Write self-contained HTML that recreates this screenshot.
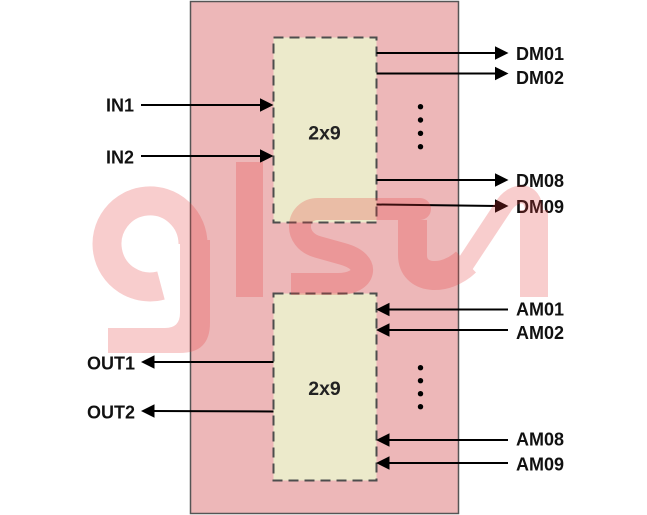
<!DOCTYPE html>
<html>
<head>
<meta charset="utf-8">
<style>
  html, body { margin: 0; padding: 0; background: #ffffff; }
  svg { display: block; }
  text { font-family: "Liberation Sans", Arial, sans-serif; font-weight: bold; font-size: 18px; fill: #111; }
</style>
</head>
<body>
<svg width="647" height="515" viewBox="0 0 647 515" xmlns="http://www.w3.org/2000/svg">
  <rect x="0" y="0" width="647" height="515" fill="#ffffff"/>

  <!-- main container -->
  <rect x="190.5" y="1.5" width="268" height="512" fill="#edb7b8" stroke="#555555" stroke-width="1.5"/>

  <!-- inner boxes -->
  <rect x="273.5" y="37.5" width="103" height="185" fill="#eceacb" stroke="#4d4d4d" stroke-width="2" stroke-dasharray="10 6"/>
  <rect x="273.5" y="293.5" width="103" height="187" fill="#eceacb" stroke="#4d4d4d" stroke-width="2" stroke-dasharray="10 6"/>

  <text x="324.5" y="139.5" text-anchor="middle" style="fill:#222;font-size:19.5px">2x9</text>
  <text x="324.5" y="395.2" text-anchor="middle" style="fill:#222;font-size:19.5px">2x9</text>

  <!-- connectors -->
  <g stroke="#000" stroke-width="2" fill="none">
    <line x1="376.5" y1="53" x2="497" y2="53"/>
    <line x1="376.5" y1="73.5" x2="497" y2="73.5"/>
    <line x1="376.5" y1="180" x2="497" y2="180"/>
    <line x1="376.5" y1="204.5" x2="497" y2="206"/>
    <line x1="141" y1="105" x2="262" y2="105"/>
    <line x1="141" y1="156" x2="262" y2="156"/>
    <line x1="273.5" y1="362" x2="152" y2="362"/>
    <line x1="273.5" y1="411.5" x2="152" y2="411"/>
    <line x1="508" y1="309.5" x2="388" y2="309.5"/>
    <line x1="508" y1="330" x2="388" y2="330"/>
    <line x1="508" y1="440" x2="388" y2="440"/>
    <line x1="508" y1="463" x2="388" y2="463"/>
  </g>
  <g fill="#000">
    <polygon points="508.5,53 495,46.3 495,59.7"/>
    <polygon points="508.5,73.5 495,66.8 495,80.2"/>
    <polygon points="508.5,180 495,173.3 495,186.7"/>
    <polygon points="508.5,206 495,199.3 495,212.7"/>
    <polygon points="273.5,105 260,98.3 260,111.7"/>
    <polygon points="273.5,156 260,149.3 260,162.7"/>
    <polygon points="141,362 154.5,355.3 154.5,368.7"/>
    <polygon points="141,411 154.5,404.3 154.5,417.7"/>
    <polygon points="376,309.5 389.5,302.8 389.5,316.2"/>
    <polygon points="376,330 389.5,323.3 389.5,336.7"/>
    <polygon points="376,440 389.5,433.3 389.5,446.7"/>
    <polygon points="376,463 389.5,456.3 389.5,469.7"/>
    <circle cx="420.5" cy="106.7" r="2.7"/>
    <circle cx="420.5" cy="120" r="2.7"/>
    <circle cx="420.5" cy="133.3" r="2.7"/>
    <circle cx="420.5" cy="146.7" r="2.7"/>
    <circle cx="420.5" cy="367.7" r="2.7"/>
    <circle cx="420.5" cy="380.7" r="2.7"/>
    <circle cx="420.5" cy="393.7" r="2.7"/>
    <circle cx="420.5" cy="406.7" r="2.7"/>
  </g>

  <!-- labels -->
  <text x="516" y="60">DM01</text>
  <text x="516" y="84">DM02</text>
  <text x="516" y="187">DM08</text>
  <text x="516" y="213">DM09</text>
  <text x="516" y="315.7">AM01</text>
  <text x="516" y="339">AM02</text>
  <text x="516" y="445.7">AM08</text>
  <text x="516" y="470.7">AM09</text>
  <text x="134" y="111.7" text-anchor="end">IN1</text>
  <text x="134" y="163.3" text-anchor="end">IN2</text>
  <text x="135" y="369.3" text-anchor="end">OUT1</text>
  <text x="135" y="418.3" text-anchor="end">OUT2</text>

  <!-- watermark overlay -->
  <g opacity="0.25">
    <g fill="none" stroke="#e63c3c">
      <path d="M193 244 A43 43 0 1 0 161 285.5" stroke-width="29"/>
      <path d="M420 209 L318 209 C296 209 292 240 318 247 L343 254 C372 262 366 284 338 284 L291 284" stroke-width="22"/>
      <path d="M412.5 220 L412.5 255 C412.5 280 445 282 466 262" stroke-width="29"/>
      <path d="M460 272 L503 207 C512 191 534 188 534 212" stroke-width="18"/>
    </g>
    <g fill="#e63c3c">
      <path d="M180 240 L210 240 L210 323 Q210 353 180 353 L108 353 L108 328 L165 328 Q180 328 180 313 Z"/>
      <rect x="236" y="162" width="27" height="135"/>
      <circle cx="420" cy="209" r="11"/>
      <rect x="520" y="210" width="28" height="87"/>
    </g>
  </g>
</svg>
</body>
</html>
